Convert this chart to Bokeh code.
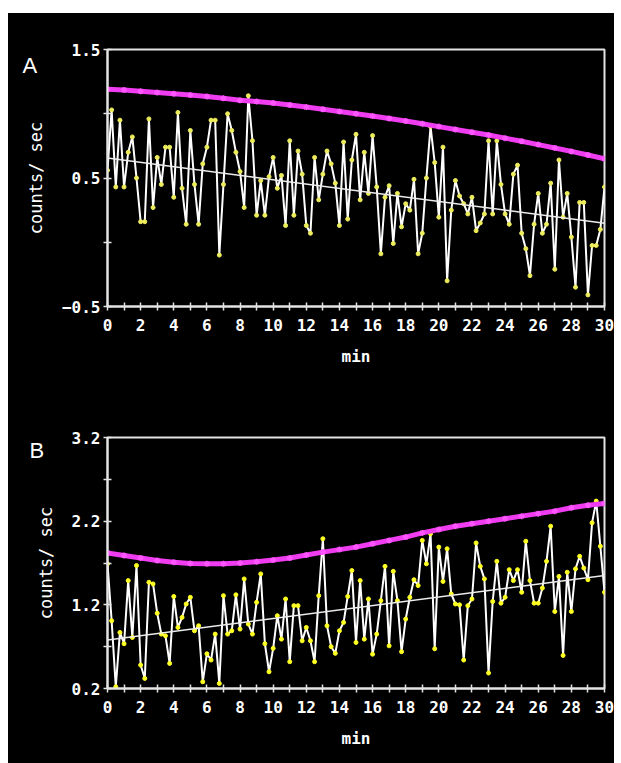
import numpy as np
from bokeh.plotting import figure
from bokeh.layouts import column
from bokeh.models import Range1d, FixedTicker
from bokeh.embed import file_html
from bokeh.resources import INLINE

# sample times (min), one reading every 15 s
minutes = np.arange(121) * 0.25
# times of the fitted upper-limit curve (min)
fit_minutes = list(range(31))
# end points of the linear trend
trend_minutes = [0, 30]

# panel A: count rate (counts/sec)
counts_a = [
    0.56, 1.03, 0.43, 0.95, 0.43, 0.70, 0.82, 0.50,
    0.16, 0.16, 0.96, 0.27, 0.66, 0.45, 0.74, 0.74,
    0.35, 1.01, 0.42, 0.14, 0.87, 0.45, 0.14, 0.61,
    0.74, 0.95, 0.95, -0.10, 0.45, 1.00, 0.87, 0.70,
    0.55, 0.27, 1.14, 0.79, 0.21, 0.48, 0.21, 0.51,
    0.66, 0.42, 0.52, 0.13, 0.79, 0.21, 0.71, 0.53,
    0.13, 0.07, 0.66, 0.33, 0.53, 0.71, 0.61, 0.46,
    0.13, 0.78, 0.18, 0.64, 0.84, 0.33, 0.70, 0.38,
    0.83, 0.43, -0.09, 0.35, 0.44, -0.01, 0.38, 0.12,
    0.30, 0.25, 0.49, -0.09, 0.07, 0.50, 0.90, 0.62,
    0.195, 0.74, -0.30, 0.25, 0.48, 0.36, 0.30, 0.22,
    0.35, 0.09, 0.15, 0.22, 0.79, 0.22, 0.79, 0.45,
    0.22, 0.14, 0.53, 0.60, 0.07, -0.05, -0.26, 0.14,
    0.38, 0.07, 0.14, 0.46, -0.21, 0.64, 0.195, 0.38,
    0.04, -0.35, 0.31, 0.31, -0.41, -0.025, -0.025, 0.10,
    0.43,
]
upper_a = [
    1.19, 1.185, 1.175, 1.165, 1.155, 1.145, 1.135, 1.12,
    1.105, 1.095, 1.083, 1.068, 1.052, 1.035, 1.018, 1.0,
    0.982, 0.963, 0.943, 0.922, 0.90, 0.878, 0.856, 0.834,
    0.81, 0.786, 0.76, 0.734, 0.707, 0.679, 0.65,
]
trend_a = [0.655, 0.148]

# panel B: count rate (counts/sec)
counts_b = [
    1.69, 1.01, 0.22, 0.87, 0.735, 1.49, 0.81, 1.67,
    0.48, 0.32, 1.47, 1.45, 1.10, 0.85, 0.83, 0.50,
    1.30, 0.93, 1.05, 1.21, 1.29, 0.89, 0.95, 0.28,
    0.615, 0.54, 0.85, 0.26, 1.31, 0.85, 0.89, 1.32,
    0.91, 1.51, 0.97, 0.85, 1.23, 1.57, 0.735, 0.40,
    0.68, 1.07, 0.79, 1.27, 0.52, 1.19, 1.19, 0.77,
    0.93, 0.77, 0.52, 1.31, 1.99, 0.95, 0.70, 0.62,
    0.89, 0.99, 1.30, 1.61, 0.75, 1.49, 0.79, 1.27,
    0.61, 0.85, 1.25, 1.66, 0.71, 1.60, 1.25, 0.64,
    1.03, 1.29, 1.50, 1.43, 1.97, 1.69, 2.05, 0.675,
    1.89, 1.48, 1.87, 1.33, 1.21, 1.20, 0.54, 1.19,
    1.27, 1.94, 1.66, 1.51, 0.385, 1.24, 1.72, 1.22,
    1.29, 1.62, 1.49, 1.62, 1.35, 1.96, 1.49, 1.22,
    1.22, 1.40, 1.72, 2.14, 1.12, 1.54, 0.595, 1.59,
    1.12, 1.63, 1.78, 1.64, 1.50, 2.18, 2.44, 1.90,
    1.35,
]
upper_b = [
    1.82, 1.79, 1.76, 1.73, 1.71, 1.695, 1.69, 1.69,
    1.70, 1.715, 1.735, 1.76, 1.795, 1.83, 1.86, 1.89,
    1.93, 1.97, 2.01, 2.06, 2.10, 2.14, 2.17, 2.20,
    2.23, 2.26, 2.29, 2.32, 2.36, 2.39, 2.41,
]
trend_b = [0.78, 1.55]

x_major = list(range(0, 31, 2))
x_minor = list(range(1, 31, 2))

MONO = "DejaVu Sans Mono"


def make_panel(letter, counts, upper, trend, y_lo, y_hi, y_major, y_minor,
               dot_color, height, borders, letter_offset, letter_standoff):
    p = figure(width=606, height=height,
               x_range=Range1d(0, 30), y_range=Range1d(y_lo, y_hi),
               output_backend="svg", toolbar_location=None,
               background_fill_color="black", border_fill_color="black",
               min_border_top=borders[0], min_border_right=borders[1],
               min_border_bottom=borders[2], min_border_left=borders[3])
    p.grid.visible = False
    p.outline_line_color = "#e4e4e4"
    p.outline_line_width = 2

    p.xaxis.ticker = FixedTicker(ticks=x_major, minor_ticks=x_minor)
    p.yaxis.ticker = FixedTicker(ticks=y_major, minor_ticks=y_minor)
    for ax in (p.xaxis[0], p.yaxis[0]):
        ax.axis_line_color = "#e4e4e4"
        ax.axis_line_width = 2
        ax.major_tick_line_color = "#e4e4e4"
        ax.minor_tick_line_color = "#e4e4e4"
        ax.major_tick_line_width = 1.5
        ax.minor_tick_line_width = 1.5
        ax.major_tick_in = 4
        ax.major_tick_out = 4
        ax.minor_tick_in = 4
        ax.minor_tick_out = 4
        ax.major_label_text_font = MONO
        ax.major_label_text_font_style = "bold"
        ax.major_label_text_font_size = "16px"
        ax.major_label_text_color = "white"
        ax.axis_label_text_font = MONO
        ax.axis_label_text_font_style = "bold"
        ax.axis_label_text_font_size = "16px"
        ax.axis_label_text_color = "white"
    p.xaxis.axis_label = "min"
    p.xaxis.major_label_standoff = 8
    p.xaxis.axis_label_standoff = 13
    p.yaxis.axis_label = "counts/ sec"
    p.yaxis.axis_label_text_font_style = "normal"
    p.yaxis.axis_label_text_font_size = "17px"
    p.yaxis.major_label_standoff = 3
    p.yaxis.axis_label_standoff = 13

    # panel letter, pulled down beside the top of the y axis
    p.title.text = letter
    p.title.align = "left"
    p.title.offset = letter_offset
    p.title.standoff = letter_standoff
    p.title.text_font = "Liberation Sans"
    p.title.text_font_style = "normal"
    p.title.text_font_size = "22px"
    p.title.text_color = "white"

    # measured count rate
    p.line(minutes, counts, line_color="white", line_width=2)
    p.scatter(minutes, counts, size=4, fill_color=dot_color,
              line_color=dot_color)
    # linear trend
    p.line(trend_minutes, trend, line_color="#ececec", line_width=1.5)
    # upper limit curve
    p.line(fit_minutes, upper, line_color="#f03cf0", line_width=5)
    p.scatter(fit_minutes, upper, size=6, marker="asterisk",
              line_color="#ff55ff", line_width=1.5)
    return p


panel_a = make_panel("A", counts_a, upper_a, trend_a, -0.5, 1.5,
                     [-0.5, 0.5, 1.5], [0.0, 1.0], "#eded5c", 377,
                     (36, 10, 84, 99), -85, -56)
panel_b = make_panel("B", counts_b, upper_b, trend_b, 0.2, 3.2,
                     [0.2, 1.2, 2.2, 3.2], [0.7, 1.7, 2.7], "#ffff22", 373,
                     (47, 2, 75, 97), -78, -50)

layout = column(panel_a, panel_b, spacing=0, margin=(13, 0, 0, 8),
                styles={"background-color": "black"})

with open("out.html", "w") as f:
    f.write(file_html(layout, INLINE, title="counts/sec"))
